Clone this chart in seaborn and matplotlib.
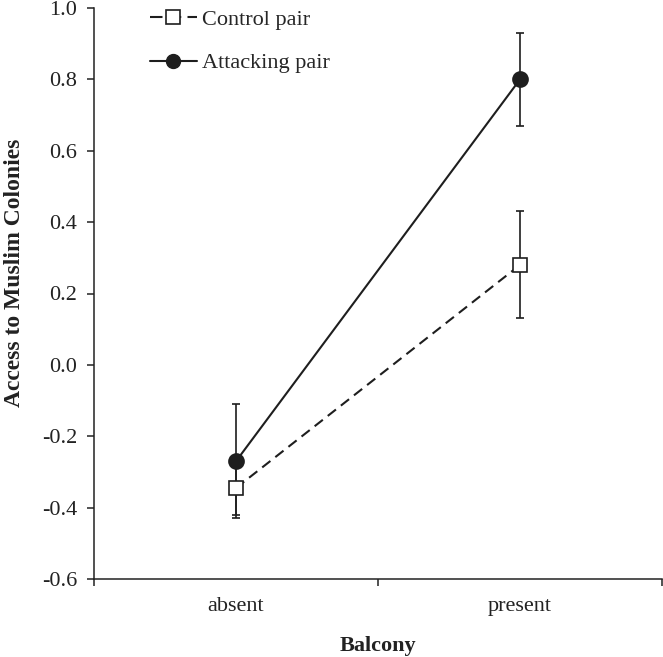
import matplotlib
matplotlib.use("Agg")
import matplotlib.pyplot as plt
from matplotlib.lines import Line2D
import seaborn as sns
import pandas as pd

categories = ["absent", "present"]
control_vals = [-0.345, 0.28]
control_err = [0.075, 0.15]
attack_vals = [-0.27, 0.80]
attack_err = [0.16, 0.13]
series_names = ["Control pair", "Attacking pair"]
y_ticks = [-0.6, -0.4, -0.2, 0.0, 0.2, 0.4, 0.6, 0.8, 1.0]

sns.set_theme(style="ticks")
plt.rcParams["font.family"] = ["Liberation Serif", "DejaVu Serif"]

df = pd.DataFrame({
    "Balcony": categories * 2,
    "value": control_vals + attack_vals,
    "Pair": [series_names[0]] * 2 + [series_names[1]] * 2,
})

fig = plt.figure(figsize=(6.63, 6.57), dpi=100)
ax = fig.add_axes([94 / 663, 78 / 657, 568 / 663, 571 / 657])

col = "#1e1e1e"
sns.pointplot(data=df, x="Balcony", y="value", hue="Pair", order=categories,
              hue_order=series_names, palette=[col, col], markers=["s", "o"],
              linestyles=["--", "-"], errorbar=None, ax=ax, legend=False)

lines = [l for l in ax.lines]
ctrl, att = lines[0], lines[1]
ctrl.set_linewidth(1.5)
ctrl.set_dashes([5, 3])
ctrl.set_markersize(10)
ctrl.set_markerfacecolor("white")
ctrl.set_markeredgecolor(col)
ctrl.set_markeredgewidth(1.2)
ctrl.set_zorder(4)
att.set_linewidth(1.5)
att.set_markersize(10)
att.set_markerfacecolor(col)
att.set_markeredgecolor(col)
att.set_zorder(5)

ax.errorbar([0, 1], control_vals, yerr=control_err, fmt="none", ecolor=col,
            elinewidth=1.2, capsize=3, capthick=1.2, zorder=2)
ax.errorbar([0, 1], attack_vals, yerr=attack_err, fmt="none", ecolor=col,
            elinewidth=1.2, capsize=3, capthick=1.2, zorder=2)

ax.set_xlim(-0.5, 1.5)
ax.set_ylim(-0.6, 1.0)
ax.set_yticks(y_ticks)
ax.set_yticklabels([f"{t:.1f}" for t in y_ticks])
ax.set_xticks([0, 1])
ax.set_xticklabels(categories)
ax.tick_params(axis="x", length=0, pad=13, labelsize=16, colors="#222222")
ax.tick_params(axis="y", length=5, width=1.1, pad=7, labelsize=16, colors="#222222")
ax.set_xticks([-0.5, 0.5, 1.5], minor=True)
ax.tick_params(axis="x", which="minor", length=5, width=1.1, color="#222222")

for s in ["top", "right"]:
    ax.spines[s].set_visible(False)
for s in ["left", "bottom"]:
    ax.spines[s].set_linewidth(1.1)
    ax.spines[s].set_color("#222222")

ax.set_xlabel("Balcony", fontsize=16, fontweight="bold", color="#222222")
ax.set_ylabel("Access to Muslim Colonies", fontsize=17, fontweight="bold", color="#222222")
ax.xaxis.set_label_coords(0.5, -0.099)
ax.yaxis.set_label_coords(-0.122, 0.536)

h1 = Line2D([], [], color=col, lw=1.5, dashes=[6, 3], marker="s", markersize=10,
            markerfacecolor="white", markeredgecolor=col, markeredgewidth=1.2)
h2 = Line2D([], [], color=col, lw=1.5, marker="o", markersize=10,
            markerfacecolor=col, markeredgecolor=col)
fig.legend([h1, h2], series_names, loc="upper left",
           bbox_to_anchor=(150 / 663, 648 / 657), borderpad=0, borderaxespad=0,
           frameon=False, fontsize=16, handlelength=2.1, labelspacing=1.05,
           handletextpad=0.25)

fig.savefig("out.png", dpi=100)
